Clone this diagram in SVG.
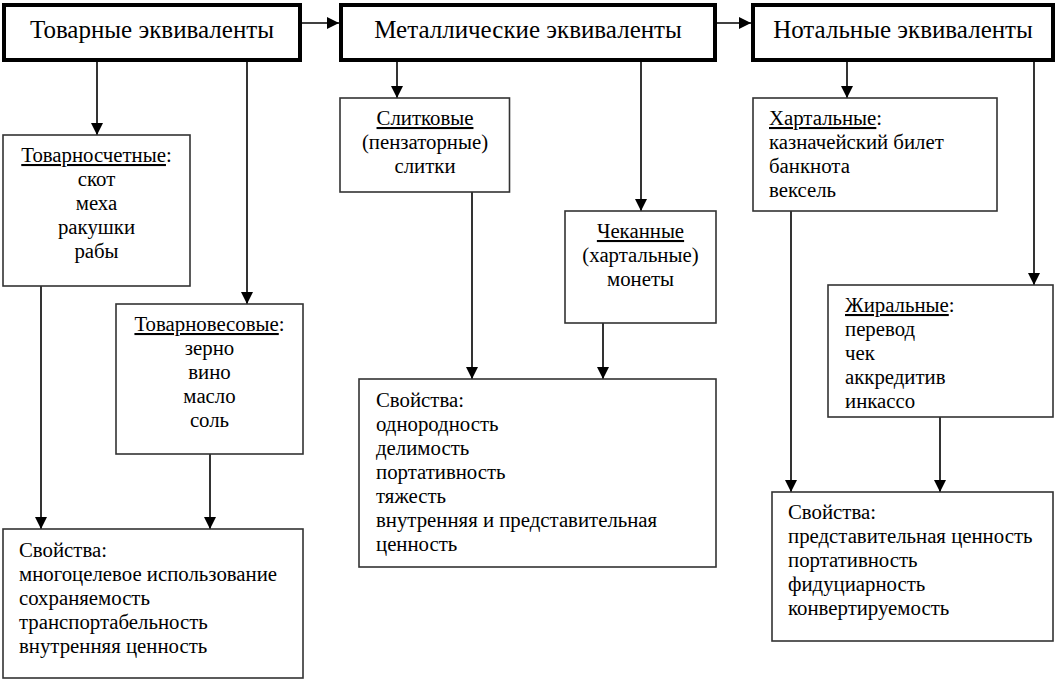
<svg xmlns="http://www.w3.org/2000/svg" width="1058" height="684" viewBox="0 0 1058 684">
<style>
.top{fill:#fff;stroke:#000;stroke-width:4}
.box{fill:#fff;stroke:#333;stroke-width:1.6}
.tt{font-family:"Liberation Serif","Times New Roman",serif;font-size:25px;fill:#000;text-anchor:middle}
.t{font-family:"Liberation Serif","Times New Roman",serif;font-size:20.8px;fill:#000}
.c{text-anchor:middle}
.u{text-decoration:underline}
.ln{stroke:#000;stroke-width:1.6;fill:none;marker-end:url(#ah)}
</style>
<defs>
<marker id="ah" markerUnits="userSpaceOnUse" markerWidth="12" markerHeight="12" refX="12" refY="6" orient="auto">
<path d="M0,0 L12,6 L0,12 Z" fill="#000"/>
</marker>
</defs>
<rect width="1058" height="684" fill="#fff"/>
<g id="connectors">
<line class="ln" x1="302" y1="23" x2="339" y2="23"/>
<line class="ln" x1="717" y1="23" x2="751" y2="23"/>
<line class="ln" x1="97" y1="62" x2="97" y2="135"/>
<line class="ln" x1="247" y1="62" x2="247" y2="304"/>
<line class="ln" x1="41" y1="286" x2="41" y2="529"/>
<line class="ln" x1="210" y1="454" x2="210" y2="529"/>
<line class="ln" x1="397" y1="62" x2="397" y2="98"/>
<line class="ln" x1="641" y1="62" x2="641" y2="211"/>
<line class="ln" x1="472" y1="192" x2="472" y2="379"/>
<line class="ln" x1="603" y1="323" x2="603" y2="379"/>
<line class="ln" x1="847" y1="62" x2="847" y2="98"/>
<line class="ln" x1="1034" y1="62" x2="1034" y2="285"/>
<line class="ln" x1="791" y1="211" x2="791" y2="492"/>
<line class="ln" x1="940" y1="417" x2="940" y2="492"/>
</g>
<g id="commodity">
<rect class="top" x="4" y="5" width="296" height="55"/>
<text class="tt" x="152" y="38">Товарные эквиваленты</text>
</g>
<g id="metal">
<rect class="top" x="341" y="5" width="374" height="55"/>
<text class="tt" x="528" y="38">Металлические эквиваленты</text>
</g>
<g id="notal">
<rect class="top" x="753" y="5" width="300" height="55"/>
<text class="tt" x="903" y="38">Нотальные эквиваленты</text>
</g>
<g id="tovarnoschetnye">
<rect class="box" x="3" y="135" width="187" height="151"/>
<text class="t c" x="96.5" y="162"><tspan class="u">Товарносчетные</tspan>:</text>
<text class="t c" x="96.5" y="186">скот</text>
<text class="t c" x="96.5" y="210">меха</text>
<text class="t c" x="96.5" y="234">ракушки</text>
<text class="t c" x="96.5" y="258">рабы</text>
</g>
<g id="tovarnovesovye">
<rect class="box" x="116" y="304" width="187" height="150"/>
<text class="t c" x="209.5" y="331"><tspan class="u">Товарновесовые</tspan>:</text>
<text class="t c" x="209.5" y="355">зерно</text>
<text class="t c" x="209.5" y="379">вино</text>
<text class="t c" x="209.5" y="403">масло</text>
<text class="t c" x="209.5" y="427">соль</text>
</g>
<g id="props1">
<rect class="box" x="3" y="529" width="300" height="149"/>
<text class="t" x="19" y="557">Свойства:</text>
<text class="t" x="19" y="581">многоцелевое использование</text>
<text class="t" x="19" y="605">сохраняемость</text>
<text class="t" x="19" y="629">транспортабельность</text>
<text class="t" x="19" y="653">внутренняя ценность</text>
</g>
<g id="slitkovye">
<rect class="box" x="340" y="98" width="169.5" height="94"/>
<text class="t c" x="425" y="125"><tspan class="u">Слитковые</tspan></text>
<text class="t c" x="425" y="149">(пензаторные)</text>
<text class="t c" x="425" y="173">слитки</text>
</g>
<g id="chekannye">
<rect class="box" x="565" y="211" width="151" height="112"/>
<text class="t c" x="640.5" y="238"><tspan class="u">Чеканные</tspan></text>
<text class="t c" x="640.5" y="262">(хартальные)</text>
<text class="t c" x="640.5" y="286">монеты</text>
</g>
<g id="props2">
<rect class="box" x="359" y="379" width="357" height="188"/>
<text class="t" x="376" y="407">Свойства:</text>
<text class="t" x="376" y="431">однородность</text>
<text class="t" x="376" y="455">делимость</text>
<text class="t" x="376" y="479">портативность</text>
<text class="t" x="376" y="503">тяжесть</text>
<text class="t" x="376" y="527">внутренняя и представительная</text>
<text class="t" x="376" y="551">ценность</text>
</g>
<g id="hartalnye">
<rect class="box" x="753" y="98" width="244" height="113"/>
<text class="t" x="769" y="125"><tspan class="u">Хартальные</tspan>:</text>
<text class="t" x="769" y="149">казначейский билет</text>
<text class="t" x="769" y="173">банкнота</text>
<text class="t" x="769" y="197">вексель</text>
</g>
<g id="giralnye">
<rect class="box" x="828" y="285" width="225" height="132"/>
<text class="t" x="845" y="312"><tspan class="u">Жиральные</tspan>:</text>
<text class="t" x="845" y="336">перевод</text>
<text class="t" x="845" y="360">чек</text>
<text class="t" x="845" y="384">аккредитив</text>
<text class="t" x="845" y="408">инкассо</text>
</g>
<g id="props3">
<rect class="box" x="772" y="492" width="281" height="149"/>
<text class="t" x="788" y="519">Свойства:</text>
<text class="t" x="788" y="543">представительная ценность</text>
<text class="t" x="788" y="567">портативность</text>
<text class="t" x="788" y="591">фидуциарность</text>
<text class="t" x="788" y="615">конвертируемость</text>
</g>
</svg>
